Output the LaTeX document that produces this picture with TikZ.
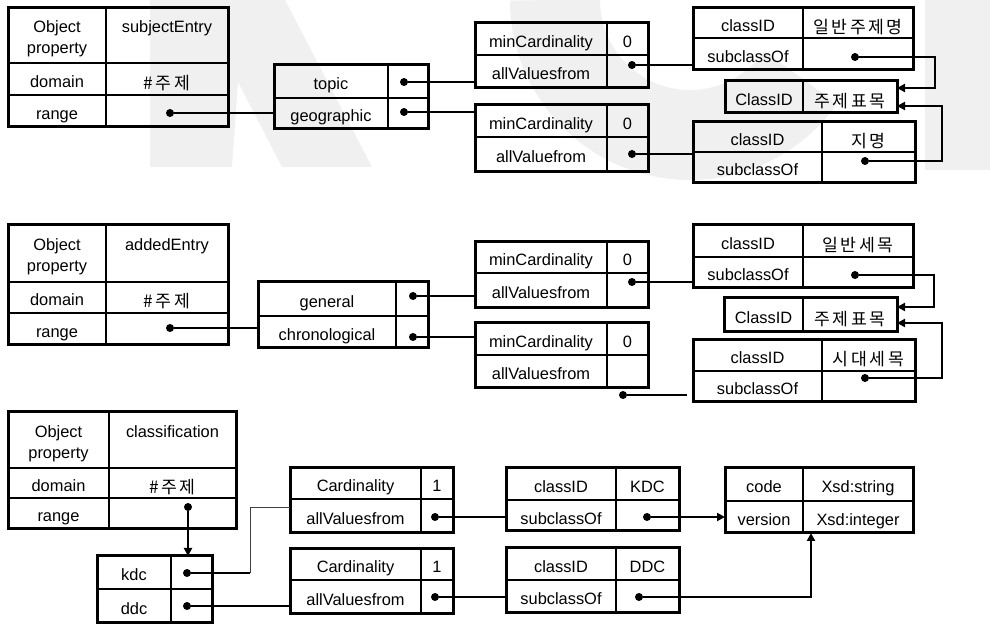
\documentclass[tikz,border=0pt]{standalone}
\usepackage{fontspec}
\setmainfont{Liberation Sans}
\newfontfamily\kr[Scale=1.05,LetterSpace=15]{Noto Sans CJK KR}
\usetikzlibrary{arrows.meta}
\newcommand\cellbox[6]{\node[cellst,minimum width={(#4-#2)*0.5pt},minimum height={(#5-#3)*0.5pt}] (#1) at ({(#2+#4)/2},{(#3+#5)/2}) {#6};}
\newcommand\cellboxT[6]{\node[cellst,toptext,minimum width={(#4-#2)*0.5pt},minimum height={(#5-#3)*0.5pt}] (#1) at ({(#2+#4)/2},{(#3+#5)/2}) {#6};}
\newcommand\twoline[2]{\begin{tabular}[t]{@{}c@{}}#1\\#2\end{tabular}}
\newcommand\ko[1]{\raisebox{-0.8pt}{\kr #1}}
\newcommand\frm[2]{\draw[outerst] (#1.north west) rectangle (#2.south east);}
\begin{document}
\begin{tikzpicture}[x=0.5pt,y=-0.5pt,
  cellst/.style={draw,line width=0.6pt,inner sep=0pt,outer sep=0pt,text height=8.5pt,text depth=0pt,font=\fontsize{8.2}{10.5}\selectfont},
  toptext/.style={text height=0pt,text depth=2.5pt},
  outerst/.style={line width=1.5pt},
  dotst/.style={circle,fill,inner sep=0pt,minimum size=4pt},
  conn/.style={line width=1pt},
  thinconn/.style={line width=0.5pt,black!75},
  midconn/.style={line width=0.7pt},
  wmcol/.style={black!6},
  arr/.style={-{Triangle[length=4pt,width=4pt]}}]
\useasboundingbox (0,0) rectangle (990,624);
% ---------- faint watermark ----------
\begin{scope}
\clip (0,0) rectangle (990,624);
\fill[wmcol] (150,0) -- (285,0) -- (372,167) -- (282,167) -- (238,82) -- (232,167) -- (150,167) -- cycle;
\draw[wmcol,line width=45pt] (690,0) ++(180:135) arc[start angle=180,end angle=35,radius=135];
\fill[wmcol] (925,0) rectangle (990,170);
\end{scope}
% ---------- top section ----------
\cellboxT{A11}{8}{8}{106}{63}{\twoline{Object}{property}}
\cellboxT{A12}{106}{8}{228}{63}{subjectEntry}
\cellbox{A21}{8}{63}{106}{95}{domain}
\cellbox{A22}{106}{63}{228}{95}{\ko{\#주제}}
\cellbox{A31}{8}{95}{106}{127}{range}
\cellbox{A32}{106}{95}{228}{127}{}
\frm{A11}{A32}
\cellbox{B11}{274}{65}{388}{98}{topic}
\cellbox{B12}{388}{65}{428}{98}{}
\cellbox{B21}{274}{98}{388}{129}{geographic}
\cellbox{B22}{388}{98}{428}{129}{}
\frm{B11}{B22}
\cellbox{C11}{475}{23}{607}{55}{minCardinality}
\cellbox{C12}{607}{23}{648}{55}{0}
\cellbox{C21}{475}{55}{607}{88}{allValuesfrom}
\cellbox{C22}{607}{55}{648}{88}{}
\frm{C11}{C22}
\cellbox{D11}{475}{105}{607}{137}{minCardinality}
\cellbox{D12}{607}{105}{648}{137}{0}
\cellbox{D21}{475}{137}{607}{172}{allValuefrom}
\cellbox{D22}{607}{137}{648}{172}{}
\frm{D11}{D22}
\cellbox{E11}{693}{8}{803}{38}{classID}
\cellbox{E12}{803}{8}{913}{38}{\ko{일반주제명}}
\cellbox{E21}{693}{38}{803}{70}{subclassOf}
\cellbox{E22}{803}{38}{913}{70}{}
\frm{E11}{E22}
\cellbox{F1}{725}{81}{803}{113}{ClassID}
\cellbox{F2}{803}{81}{897}{113}{\ko{주제표목}}
\frm{F1}{F2}
\cellbox{G11}{693}{122}{822}{152}{classID}
\cellbox{G12}{822}{122}{915}{152}{\ko{지명}}
\cellbox{G21}{693}{152}{822}{183}{subclassOf}
\cellbox{G22}{822}{152}{915}{183}{}
\frm{G11}{G22}
\node[dotst] (dA) at (170,113) {};
\node[dotst] (dB1) at (404,82) {};
\node[dotst] (dB2) at (404,112) {};
\node[dotst] (dC) at (632,65) {};
\node[dotst] (dD) at (632,154) {};
\node[dotst] (dE) at (855,57) {};
\node[dotst] (dG) at (865,161) {};
\draw[conn] (dA) -- (dA -| B21.west);
\draw[conn] (dB1) -- (dB1 -| C21.west);
\draw[conn] (dB2) -- (dB2 -| D11.west);
\draw[conn] (dC) -- (dC -| E21.west);
\draw[conn] (dD) -- (dD -| G21.west);
\draw[conn,arr] (dE) -- ++(80,0) |- ([yshift=4.5pt]F2.east);
\draw[conn,arr] (dG) -- ++(77,0) |- ([yshift=-4.5pt]F2.east);
% ---------- middle section ----------
\cellboxT{H11}{8}{225}{106}{282}{\twoline{Object}{property}}
\cellboxT{H12}{106}{225}{228}{282}{addedEntry}
\cellbox{H21}{8}{282}{106}{313}{domain}
\cellbox{H22}{106}{282}{228}{313}{\ko{\#주제}}
\cellbox{H31}{8}{313}{106}{345}{range}
\cellbox{H32}{106}{313}{228}{345}{}
\frm{H11}{H32}
\cellbox{I11}{258}{282}{396}{316}{general}
\cellbox{I12}{396}{282}{428}{316}{}
\cellbox{I21}{258}{316}{396}{348}{chronological}
\cellbox{I22}{396}{316}{428}{348}{}
\frm{I11}{I22}
\cellbox{J11}{475}{242}{607}{273}{minCardinality}
\cellbox{J12}{607}{242}{648}{273}{0}
\cellbox{J21}{475}{273}{607}{308}{allValuesfrom}
\cellbox{J22}{607}{273}{648}{308}{}
\frm{J11}{J22}
\cellbox{K11}{475}{323}{607}{355}{minCardinality}
\cellbox{K12}{607}{323}{648}{355}{0}
\cellbox{K21}{475}{355}{607}{388}{allValuesfrom}
\cellbox{K22}{607}{355}{648}{388}{}
\frm{K11}{K22}
\cellbox{L11}{693}{225}{803}{257}{classID}
\cellbox{L12}{803}{225}{913}{257}{\ko{일반세목}}
\cellbox{L21}{693}{257}{803}{288}{subclassOf}
\cellbox{L22}{803}{257}{913}{288}{}
\frm{L11}{L22}
\cellbox{M1}{724}{298}{803}{332}{ClassID}
\cellbox{M2}{803}{298}{897}{332}{\ko{주제표목}}
\frm{M1}{M2}
\cellbox{N11}{693}{340}{822}{371}{classID}
\cellbox{N12}{822}{340}{915}{371}{\ko{시대세목}}
\cellbox{N21}{693}{371}{822}{402}{subclassOf}
\cellbox{N22}{822}{371}{915}{402}{}
\frm{N11}{N22}
\node[dotst] (dH) at (170,328) {};
\node[dotst] (dI1) at (413,296) {};
\node[dotst] (dI2) at (413,337) {};
\node[dotst] (dJ) at (632,282) {};
\node[dotst] (dK) at (623,395) {};
\node[dotst] (dL) at (855,275) {};
\node[dotst] (dN) at (865,378) {};
\draw[conn] (dH) -- (dH -| I21.west);
\draw[conn] (dI1) -- (dI1 -| J21.west);
\draw[conn] (dI2) -- (dI2 -| K11.west);
\draw[conn] (dJ) -- (dJ -| L21.west);
\draw[conn,shorten >=3pt] (dK) -- (dK -| N21.west);
\draw[conn,arr] (dL) -- ++(79,0) |- ([yshift=4pt]M2.east);
\draw[conn,arr] (dN) -- ++(77,0) |- ([yshift=-4pt]M2.east);
% ---------- bottom section ----------
\cellboxT{O11}{8}{412}{109}{468}{\twoline{Object}{property}}
\cellboxT{O12}{109}{412}{236}{468}{classification}
\cellbox{O21}{8}{468}{109}{498}{domain}
\cellbox{O22}{109}{468}{236}{498}{\ko{\#주제}}
\cellbox{O31}{8}{498}{109}{529}{range}
\cellbox{O32}{109}{498}{236}{529}{}
\frm{O11}{O32}
\cellbox{P11}{97}{556}{171}{589}{kdc}
\cellbox{P12}{171}{556}{212}{589}{}
\cellbox{P21}{97}{589}{171}{622}{ddc}
\cellbox{P22}{171}{589}{212}{622}{}
\frm{P11}{P22}
\cellbox{Q11}{290}{468}{421}{499}{Cardinality}
\cellbox{Q12}{421}{468}{453}{499}{1}
\cellbox{Q21}{290}{499}{421}{533}{allValuesfrom}
\cellbox{Q22}{421}{499}{453}{533}{}
\frm{Q11}{Q22}
\cellbox{R11}{290}{549}{421}{580}{Cardinality}
\cellbox{R12}{421}{549}{453}{580}{1}
\cellbox{R21}{290}{580}{421}{613}{allValuesfrom}
\cellbox{R22}{421}{580}{453}{613}{}
\frm{R11}{R22}
\cellbox{S11}{506}{468}{616}{500}{classID}
\cellbox{S12}{616}{468}{679}{500}{KDC}
\cellbox{S21}{506}{500}{616}{531}{subclassOf}
\cellbox{S22}{616}{500}{679}{531}{}
\frm{S11}{S22}
\cellbox{T11}{506}{548}{616}{580}{classID}
\cellbox{T12}{616}{548}{679}{580}{DDC}
\cellbox{T21}{506}{580}{616}{612}{subclassOf}
\cellbox{T22}{616}{580}{679}{612}{}
\frm{T11}{T22}
\cellbox{U11}{725}{468}{803}{501}{code}
\cellbox{U12}{803}{468}{913}{501}{Xsd:string}
\cellbox{U21}{725}{501}{803}{533}{version}
\cellbox{U22}{803}{501}{913}{533}{Xsd:integer}
\frm{U11}{U22}
\node[dotst] (dO) at (188,507) {};
\node[dotst] (dP1) at (187,573) {};
\node[dotst] (dP2) at (187,606) {};
\node[dotst] (dQ) at (435,517) {};
\node[dotst] (dR) at (435,597) {};
\node[dotst] (dS) at (647,517) {};
\node[dotst] (dT) at (639,597) {};
\draw[conn,arr] (dO) -- (dO |- P12.north);
\draw[conn] (dP1) -- ++(63,0) coordinate (kb);
\draw[thinconn] (kb) |- ([yshift=4pt]Q21.west);
\draw[conn] (dP2) -- (dP2 -| P22.east);
\draw[midconn] (dP2 -| P22.east) -- (dP2 -| R21.west);
\draw[conn] (dQ) -- (dQ -| S21.west);
\draw[conn] (dR) -- (dR -| T21.west);
\draw[conn,arr] (dS) -- (dS -| U21.west);
\draw[conn,arr] (dT) -| ([xshift=4pt]U21.south east);
\end{tikzpicture}
\end{document}
